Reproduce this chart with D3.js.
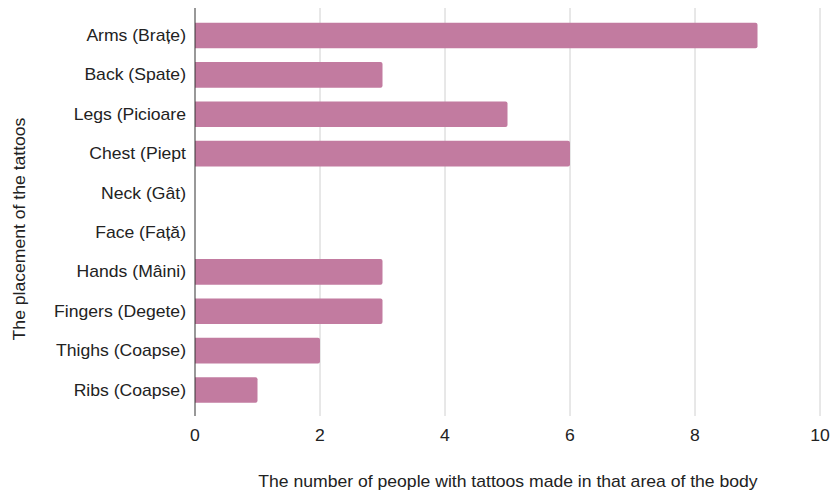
<!DOCTYPE html>
<html><head><meta charset="utf-8">
<script src="https://cdn.jsdelivr.net/npm/d3@7"></script>
<style>body{margin:0;background:#fff}</style>
</head><body><svg id="c" width="830" height="493"></svg>
<script>
const categories = ["Arms (Brațe)","Back (Spate)","Legs (Picioare","Chest (Piept","Neck (Gât)","Face (Față)","Hands (Mâini)","Fingers (Degete)","Thighs (Coapse)","Ribs (Coapse)"];
const values = [9,3,5,6,0,0,3,3,2,1];
const xTicks = [0,2,4,6,8,10];
const xTitle = "The number of people with tattoos made in that area of the body";
const yTitle = "The placement of the tattoos";

const svg = d3.select("#c");
const font = "'Liberation Sans', Arial, sans-serif";
const fs = 16, sx = 1.1;
const x = d3.scaleLinear().domain([0,10]).range([195,820]);
const y = d3.scaleBand().domain(categories).range([15.8,409.7]).paddingInner(0.35).paddingOuter(0.175);

svg.append("g").selectAll("line").data(xTicks.slice(1)).join("line")
  .attr("x1",d=>x(d)).attr("x2",d=>x(d)).attr("y1",8).attr("y2",416)
  .attr("stroke","#d0d0d0").attr("stroke-width",1);

svg.append("g").selectAll("path").data(categories.map((c,i)=>({c,v:values[i]})).filter(d=>d.v>0)).join("path")
  .attr("fill","#c27ba0")
  .attr("d",d=>{
    const x0=x(0), x1=x(d.v), y0=y(d.c), h=y.bandwidth(), r=2;
    return `M${x0},${y0}H${x1-r}Q${x1},${y0} ${x1},${y0+r}V${y0+h-r}Q${x1},${y0+h} ${x1-r},${y0+h}H${x0}Z`;
  });

svg.append("line").attr("x1",x(0)).attr("x2",x(0)).attr("y1",8).attr("y2",416)
  .attr("stroke","#333").attr("stroke-width",1);

function txt(sel){ return sel.attr("font-family",font).attr("font-size",fs).attr("fill","#222"); }

txt(svg.append("g").selectAll("text").data(categories).join("text"))
  .attr("transform",d=>`translate(186,${y(d)+y.bandwidth()/2}) scale(${sx},1)`).attr("dy","0.35em")
  .attr("text-anchor","end").text(d=>d);

txt(svg.append("g").selectAll("text").data(xTicks).join("text"))
  .attr("transform",d=>`translate(${x(d)},441) scale(${sx},1)`).attr("text-anchor","middle").text(d=>d);

txt(svg.append("text")).attr("transform",`translate(508,487) scale(${sx},1)`).attr("text-anchor","middle").text(xTitle);

txt(svg.append("text")).attr("transform",`translate(25,229) rotate(-90) scale(${sx},1)`).attr("text-anchor","middle").text(yTitle);
</script></body></html>
